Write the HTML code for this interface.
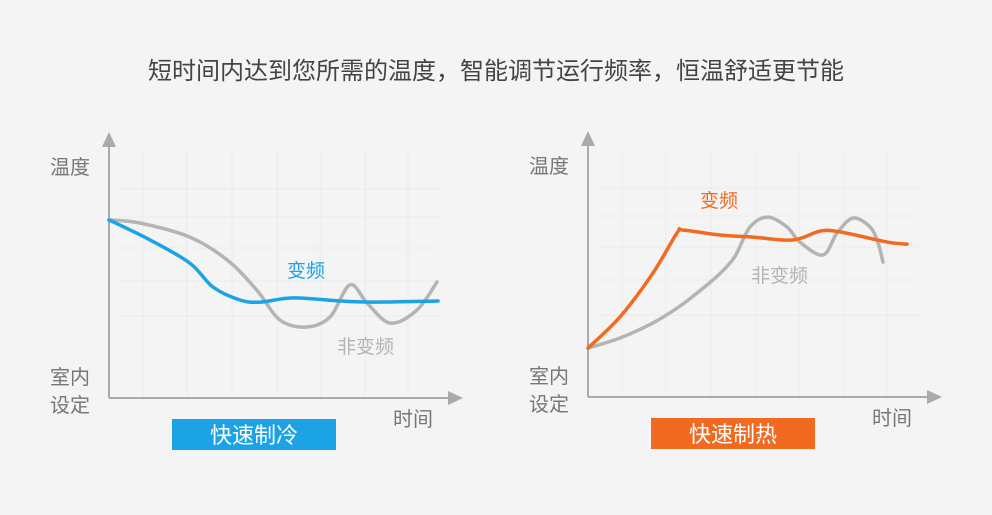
<!DOCTYPE html>
<html><head><meta charset="utf-8">
<style>
html,body{margin:0;padding:0;}
body{width:992px;height:510px;background:#f4f4f4;overflow:hidden;font-family:"Liberation Sans","Noto Sans CJK SC",sans-serif;}
svg text{font-family:"Liberation Sans","Noto Sans CJK SC",sans-serif;}
</style></head>
<body>
<svg id="chart" width="992" height="510" viewBox="0 0 992 510" xmlns="http://www.w3.org/2000/svg">
<rect x="0" y="0" width="992" height="510" fill="#f4f4f4"/>
<text x="496" y="79" text-anchor="middle" font-size="24" fill="#444">短时间内达到您所需的温度，智能调节运行频率，恒温舒适更节能</text>
<g id="left"></g>
<g id="right"></g>
</svg>
<script>
// time (0-100) and temperature (0-100) values
const coolInverterT = [0,12.4,24.5,31.5,39.7,45.8,55.8,70,80,99.7];
const coolInverterV = [68.5,60.8,51.9,42.7,37.7,36.9,38.5,37.3,36.9,37.3];
const coolFixedT = [0,9.4,24.5,35.8,44.8,51.8,60,67,73,78.2,85.2,93.3,99.4];
const coolFixedV = [68.5,67.3,61.9,53.1,41.5,30,27.3,31.2,43.5,36.5,28.8,33.8,44.6];
const heatInverterT = [0,9.7,19.7,27,28.8,40,50,62.1,70.3,76.4,90.6,96.7];
const heatInverterV = [18.8,30.8,47.7,63.1,64.2,62.3,61.5,60.4,63.8,63.5,59.6,58.8];
const heatFixedT = [0,9.7,19.7,27.9,35,40,44.5,49.1,54.5,60.3,64.2,71.2,75.5,80.3,85.5,87.9,89.4];
const heatFixedV = [18.8,22.7,28.5,35,42,47.5,54,65.4,69.2,65.4,59.6,54.6,63.1,68.8,65.4,59.2,51.9];
const gridT = [10.3,23.6,37.3,51,64,77.6,90.6];
const gridV = [31.5,45,57.7,69.6,80.4];

const NS = "http://www.w3.org/2000/svg";
function mk(tag, attrs, parent){const e=document.createElementNS(NS,tag);for(const k in attrs)e.setAttribute(k,attrs[k]);parent.appendChild(e);return e;}
function smooth(pts){
  let d="M"+pts[0][0]+","+pts[0][1];
  for(let i=0;i<pts.length-1;i++){
    const p0=pts[Math.max(0,i-1)],p1=pts[i],p2=pts[i+1],p3=pts[Math.min(pts.length-1,i+2)];
    const c1=[p1[0]+(p2[0]-p0[0])/6,p1[1]+(p2[1]-p0[1])/6];
    const c2=[p2[0]-(p3[0]-p1[0])/6,p2[1]-(p3[1]-p1[1])/6];
    d+=" C"+c1[0].toFixed(1)+","+c1[1].toFixed(1)+" "+c2[0].toFixed(1)+","+c2[1].toFixed(1)+" "+p2[0].toFixed(1)+","+p2[1].toFixed(1);
  }
  return d;
}
function drawChart(g, x0, y0, invT, invV, fixT, fixV, color, title, invLabel, fixLabel, prefix){
  const xs = t => x0 + t*3.3;
  const ys = v => y0 - v*2.6;
  gridT.forEach(t=>{const l=mk("line",{x1:xs(t),x2:xs(t),y1:ys(95),y2:y0,stroke:"#ebebeb","stroke-width":1},g);
    
    });
  gridV.forEach(v=>{const l=mk("line",{x1:x0+8,x2:xs(100),y1:ys(v),y2:ys(v),stroke:"#ebebeb","stroke-width":1},g);
    
    });
  const ya=mk("line",{x1:x0,x2:x0,y1:y0,y2:y0-255,stroke:"#aaa","stroke-width":2},g);
  
  
  const yh=mk("polygon",{points:`${x0},${y0-266} ${x0-7},${y0-251} ${x0+7},${y0-251}`,fill:"#aaa"},g);
  
  
  const xa=mk("line",{x1:x0,x2:x0+342,y1:y0,y2:y0,stroke:"#aaa","stroke-width":2},g);
  
  
  const xh=mk("polygon",{points:`${x0+354},${y0} ${x0+339},${y0-7} ${x0+339},${y0+7}`,fill:"#aaa"},g);
  
  
  const lab=(txt,x,y,size,fill,name,anchor)=>{const t=mk("text",{x:x,y:y,"font-size":size,fill:fill,"text-anchor":anchor||"start"},g);t.textContent=txt;
    
    return t;};
  lab("温度",x0-59,y0-224,20,"#777","y-axis-title");
  lab("室内",x0-59,y0-14,20,"#777","y-axis-min-label-line1");
  lab("设定",x0-59,y0+14,20,"#777","y-axis-min-label-line2");
  lab("时间",x0+284,y0+28,20,"#777","x-axis-title");
  const fp=fixT.map((t,i)=>[xs(t),ys(fixV[i])]);
  const f=mk("path",{d:smooth(fp),fill:"none",stroke:"#b4b4b4","stroke-width":3.5,"stroke-linecap":"round"},g);
  
  
  const ip=invT.map((t,i)=>[xs(t),ys(invV[i])]);
  const p=mk("path",{d:smooth(ip),fill:"none",stroke:color,"stroke-width":3.5,"stroke-linecap":"round"},g);
  
  
  lab("变频",invLabel[0],invLabel[1],19,color,prefix+'-inverter-label');
  lab("非变频",fixLabel[0],fixLabel[1],19,"#b4b4b4",prefix+'-fixed-speed-label');
  const b=mk("rect",{x:x0+63,y:y0+21,width:164,height:31,fill:color},g);
  
  
  lab(title,x0+145,y0+45,22,"#fff",prefix+'-title-text',"middle");
}
drawChart(document.getElementById("left"),109,398,coolInverterT,coolInverterV,coolFixedT,coolFixedV,"#1ba3e6","快速制冷",[287,277],[337,353],"cooling");
drawChart(document.getElementById("right"),588,397,heatInverterT,heatInverterV,heatFixedT,heatFixedV,"#f26a21","快速制热",[700,207],[751,282],"heating");
</script>
</body></html>
